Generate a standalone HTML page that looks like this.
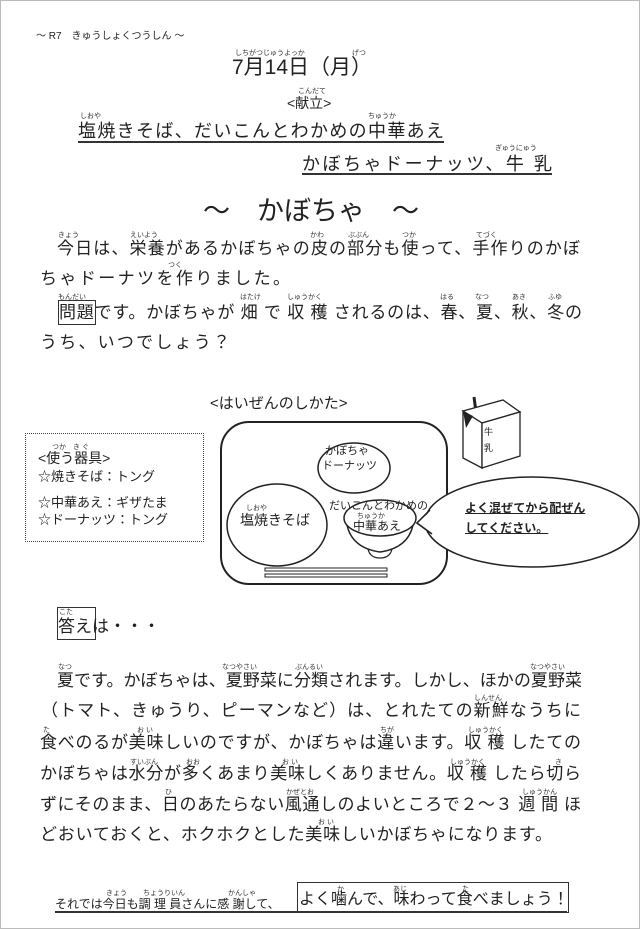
<!DOCTYPE html>
<html><head><meta charset="utf-8"><style>
html,body{margin:0;padding:0;background:#fff}
body{width:640px;height:929px;position:relative;overflow:hidden;font-family:"Liberation Sans","Noto Sans CJK JP",sans-serif;color:#222}
.a{position:absolute;line-height:1;white-space:nowrap}
.j{position:absolute;line-height:1;text-align:justify;text-align-last:justify}
.r{position:absolute;font-size:7px;line-height:1;white-space:nowrap;color:#333}
</style></head><body>
<div style="position:absolute;left:0;top:0;width:638px;height:927px;border:1px solid #bbb"></div>
<div class="a" style="left:36px;top:32px;font-size:10px">～ R7　きゅうしょくつうしん ～</div>
<div class="r" style="left:235px;top:50px">しちがつじゅうよっか</div><div class="r" style="left:352px;top:50px">げつ</div>
<div class="a" style="left:232px;top:57px;font-size:21px">7月14日（月）</div>
<div class="r" style="left:298px;top:88px">こんだて</div>
<div class="a" style="left:287px;top:96px;font-size:14px">&lt;献立&gt;</div>
<div class="r" style="left:80px;top:113px">しおや</div><div class="r" style="left:368px;top:113px">ちゅうか</div>
<div class="j" style="left:78px;top:122px;width:366px;font-size:18px">塩焼きそば、だいこんとわかめの中華あえ</div>
<div style="position:absolute;left:78px;top:141px;width:366px;height:1.5px;background:#333"></div>
<div class="r" style="left:495px;top:145px">ぎゅうにゅう</div>
<div class="j" style="left:302px;top:155px;width:250px;font-size:18px">かぼちゃドーナッツ、牛 乳</div>
<div style="position:absolute;left:302px;top:173px;width:250px;height:1.5px;background:#333"></div>
<div class="a" style="left:203px;top:198px;font-size:27px">～　かぼちゃ　～</div>
<div class="r" style="left:58px;top:232px">きょう</div><div class="r" style="left:130px;top:232px">えいよう</div><div class="r" style="left:310px;top:232px">かわ</div><div class="r" style="left:348px;top:232px">ぶぶん</div><div class="r" style="left:402px;top:232px">つか</div><div class="r" style="left:476px;top:232px">てづく</div>
<div class="j" style="left:57px;top:240px;width:523px;font-size:17px">今日は、栄養があるかぼちゃの皮の部分も使って、手作りのかぼ</div>
<div class="r" style="left:168px;top:262px">つく</div>
<div class="j" style="left:40px;top:270px;width:250px;font-size:17px">ちゃドーナツを作りました。</div>
<div class="r" style="left:58px;top:294px">もんだい</div><div class="r" style="left:240px;top:294px">はたけ</div><div class="r" style="left:287px;top:294px">しゅうかく</div><div class="r" style="left:440px;top:294px">はる</div><div class="r" style="left:475px;top:294px">なつ</div><div class="r" style="left:512px;top:294px">あき</div><div class="r" style="left:548px;top:294px">ふゆ</div>
<div style="position:absolute;left:58px;top:300px;width:36px;height:23px;border:1px solid #333"></div>
<div class="j" style="left:59px;top:304px;width:523px;font-size:17px">問題です。かぼちゃが 畑 で 収 穫 されるのは、春、夏、秋、冬の</div>
<div class="j" style="left:40px;top:334px;width:190px;font-size:17px">うち、いつでしょう？</div>

<div class="a" style="left:210px;top:396px;font-size:15px">&lt;はいぜんのしかた&gt;</div>
<div style="position:absolute;left:25px;top:433px;width:177px;height:107px;border:1px dotted #444"></div>
<div class="r" style="left:52px;top:444px">つか　き ぐ</div>
<div class="a" style="left:38px;top:451px;font-size:14px">&lt;使う器具&gt;</div>
<div class="a" style="left:38px;top:470px;font-size:13px">☆焼きそば：トング</div>
<div class="a" style="left:38px;top:496px;font-size:13px">☆中華あえ：ギザたま</div>
<div class="a" style="left:38px;top:513px;font-size:13px">☆ドーナッツ：トング</div>

<svg style="position:absolute;left:0;top:0" width="640" height="929">
<rect x="221" y="422" width="226" height="162" rx="28" fill="none" stroke="#222" stroke-width="2"/>
<ellipse cx="277" cy="525" rx="50" ry="41" fill="none" stroke="#222" stroke-width="1.5"/>
<ellipse cx="354" cy="468" rx="36" ry="25" fill="none" stroke="#222" stroke-width="1.5"/>
<path d="M347 525 Q352 548 380 552 Q408 548 413 525" fill="none" stroke="#222" stroke-width="1.5"/>
<path d="M368 549 Q370 558 380 558 Q390 558 392 549" fill="none" stroke="#222" stroke-width="1.2"/>
<ellipse cx="380" cy="518" rx="36" ry="18" fill="#fff" stroke="#222" stroke-width="1.5"/>
<rect x="265" y="568" width="122" height="3" fill="none" stroke="#222" stroke-width="1"/>
<rect x="265" y="574" width="122" height="3" fill="none" stroke="#222" stroke-width="1"/>
<path d="M430 510 L417 523 L432 534" fill="#fff" stroke="#222" stroke-width="1.5"/>
<ellipse cx="532" cy="522" rx="107" ry="45" fill="#fff" stroke="#222" stroke-width="1.5"/>
<path d="M417 523 L432 510 L432 534 Z" fill="#fff"/>
<path d="M430 510 L417 523 L432 534" fill="none" stroke="#222" stroke-width="1.5"/>
<line x1="474" y1="397" x2="476" y2="412" stroke="#222" stroke-width="3"/>
<path d="M463 411 L503 400 L520 412 L482 423 Z" fill="#fff" stroke="#222" stroke-width="1.3"/>
<path d="M463 411 L482 423 L482 468 L463 458 Z" fill="#fff" stroke="#222" stroke-width="1.3"/>
<path d="M482 423 L520 412 L520 456 L482 468 Z" fill="#fff" stroke="#222" stroke-width="1.3"/>
<path d="M463 411 L473 416 L466 428 Z" fill="#222"/>
</svg>
<div class="a" style="left:484px;top:428px;font-size:9px">牛</div>
<div class="a" style="left:484px;top:444px;font-size:9px">乳</div>
<div class="a" style="left:325px;top:446px;font-size:11px">かぼちゃ</div>
<div class="a" style="left:322px;top:461px;font-size:11px">ドーナッツ</div>
<div class="r" style="left:246px;top:505px">しおや</div>
<div class="a" style="left:240px;top:513px;font-size:14px">塩焼きそば</div>
<div class="a" style="left:329px;top:501px;font-size:11px">だいこんとわかめの</div>
<div class="r" style="left:357px;top:513px">ちゅうか</div>
<div class="a" style="left:353px;top:520px;font-size:12px">中華あえ</div>
<div class="a" style="left:465px;top:502px;font-size:12px;font-weight:bold;text-decoration:underline">よく混ぜてから配ぜん</div>
<div class="a" style="left:465px;top:522px;font-size:12px;font-weight:bold;text-decoration:underline">してください。</div>

<div class="r" style="left:59px;top:609px">こた</div>
<div style="position:absolute;left:57px;top:607px;width:37px;height:31px;border:1px solid #333"></div>
<div class="a" style="left:58px;top:618px;font-size:17px">答えは・・・</div>

<div class="r" style="left:58px;top:664px">なつ</div><div class="r" style="left:222px;top:664px">なつやさい</div><div class="r" style="left:295px;top:664px">ぶんるい</div><div class="r" style="left:530px;top:664px">なつやさい</div>
<div class="j" style="left:57px;top:672px;width:525px;font-size:17px">夏です。かぼちゃは、夏野菜に分類されます。しかし、ほかの夏野菜</div>
<div class="r" style="left:474px;top:695px">しんせん</div>
<div class="j" style="left:41px;top:702px;width:540px;font-size:17px">（トマト、きゅうり、ピーマンなど）は、とれたての新鮮なうちに</div>
<div class="r" style="left:43px;top:727px">た</div><div class="r" style="left:137px;top:727px">お い</div><div class="r" style="left:380px;top:727px">ちが</div><div class="r" style="left:468px;top:727px">しゅうかく</div>
<div class="j" style="left:40px;top:734px;width:541px;font-size:17px">食べのるが美味しいのですが、かぼちゃは違います。収 穫 したての</div>
<div class="r" style="left:130px;top:759px">すいぶん</div><div class="r" style="left:186px;top:759px">おお</div><div class="r" style="left:282px;top:759px">お い</div><div class="r" style="left:450px;top:759px">しゅうかく</div><div class="r" style="left:555px;top:759px">き</div>
<div class="j" style="left:40px;top:765px;width:541px;font-size:17px">かぼちゃは水分が多くあまり美味しくありません。収 穫 したら切ら</div>
<div class="r" style="left:165px;top:789px">ひ</div><div class="r" style="left:286px;top:789px">かぜとお</div><div class="r" style="left:522px;top:789px">しゅうかん</div>
<div class="j" style="left:40px;top:796px;width:541px;font-size:17px">ずにそのまま、日のあたらない風通しのよいところで２～３ 週 間 ほ</div>
<div class="r" style="left:318px;top:819px">お い</div>
<div class="j" style="left:40px;top:826px;width:512px;font-size:17px">どおいておくと、ホクホクとした美味しいかぼちゃになります。</div>

<div class="r" style="left:106px;top:890px">きょう</div><div class="r" style="left:143px;top:890px">ちょうりいん</div><div class="r" style="left:228px;top:890px">かんしゃ</div><div class="r" style="left:337px;top:886px">か</div><div class="r" style="left:393px;top:886px">あじ</div><div class="r" style="left:462px;top:886px">た</div>
<div class="a" style="left:55px;top:898px;font-size:12px">それでは今日も調 理 員さんに感 謝して、</div>
<div style="position:absolute;left:55px;top:911px;width:512px;height:1.5px;background:#333"></div>
<div style="position:absolute;left:297px;top:882px;width:270px;height:29px;border:1px solid #333"></div>
<div class="a" style="left:299px;top:892px;font-size:16px">よく噛んで、味わって食べましょう！</div>
</body></html>
